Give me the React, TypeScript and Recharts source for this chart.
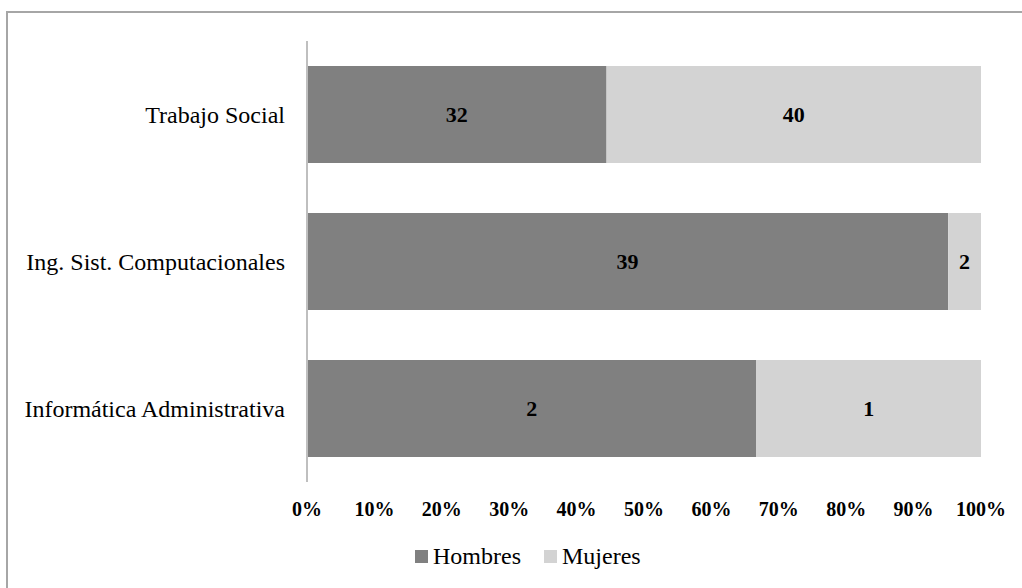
import React from "react";
import { BarChart, Bar, XAxis, YAxis, LabelList } from "recharts";

const carreras = [
  "Trabajo Social",
  "Ing. Sist. Computacionales",
  "Informática Administrativa",
];
const hombres = [32, 39, 2];
const mujeres = [40, 2, 1];
const xTicks = [0, 0.1, 0.2, 0.3, 0.4, 0.5, 0.6, 0.7, 0.8, 0.9, 1];

const COLOR_HOMBRES = "#808080";
const COLOR_MUJERES = "#d3d3d3";
const FONT = "'Liberation Serif', 'Times New Roman', serif";

const series = [
  { key: "Hombres", color: COLOR_HOMBRES },
  { key: "Mujeres", color: COLOR_MUJERES },
];

const data = carreras.map((name, i) => ({
  name,
  Hombres: hombres[i],
  Mujeres: mujeres[i],
}));

const labelStyle = {
  fontFamily: FONT,
  fontSize: 22,
  fontWeight: "bold" as const,
  fill: "#000",
};

// legend row under the plot
const ChartLegend = () => (
  <div
    style={{
      position: "absolute",
      left: 415,
      top: 541,
      display: "flex",
      alignItems: "center",
      fontFamily: FONT,
      fontSize: 24,
      lineHeight: "30px",
      color: "#000",
    }}
  >
    {series.map((s) => (
      <span
        key={s.key}
        style={{ display: "flex", alignItems: "center", marginRight: 23 }}
      >
        <span
          style={{
            display: "inline-block",
            width: 13,
            height: 13,
            background: s.color,
            marginRight: 5,
          }}
        />
        {s.key}
      </span>
    ))}
  </div>
);

export default function App() {
  return (
    <div
      style={{
        position: "absolute",
        left: 0,
        top: 0,
        width: 1022,
        height: 588,
        overflow: "hidden",
        background: "#fff",
      }}
    >
      <div
        style={{
          position: "absolute",
          left: 6,
          top: 11,
          width: 1100,
          height: 700,
          borderTop: "2px solid #a6a6a6",
          borderLeft: "2px solid #a6a6a6",
        }}
      />
      <div style={{ position: "absolute", left: 0, top: 0 }}>
        <BarChart
          width={1022}
          height={588}
          data={data}
          layout="vertical"
          stackOffset="expand"
          margin={{ top: 41, right: 41, bottom: 76, left: 0 }}
        >
          <XAxis
            type="number"
            domain={[0, 1]}
            ticks={xTicks}
            tickFormatter={(v: number) => `${Math.round(v * 100)}%`}
            axisLine={false}
            tickLine={false}
            tick={{
              fontFamily: FONT,
              fontSize: 20,
              fontWeight: "bold",
              fill: "#000",
            }}
            tickMargin={14}
            interval={0}
          />
          <YAxis
            type="category"
            dataKey="name"
            width={307}
            axisLine={{ stroke: "#bfbfbf", strokeWidth: 2 }}
            tickLine={false}
            tickMargin={16}
            tick={{ fontFamily: FONT, fontSize: 24, fill: "#000" }}
          />
          {series.map((s) => (
            <Bar
              key={s.key}
              dataKey={s.key}
              stackId="a"
              fill={s.color}
              barSize={97}
              isAnimationActive={false}
            >
              <LabelList dataKey={s.key} position="center" style={labelStyle} />
            </Bar>
          ))}
        </BarChart>
      </div>
      <ChartLegend />
    </div>
  );
}
